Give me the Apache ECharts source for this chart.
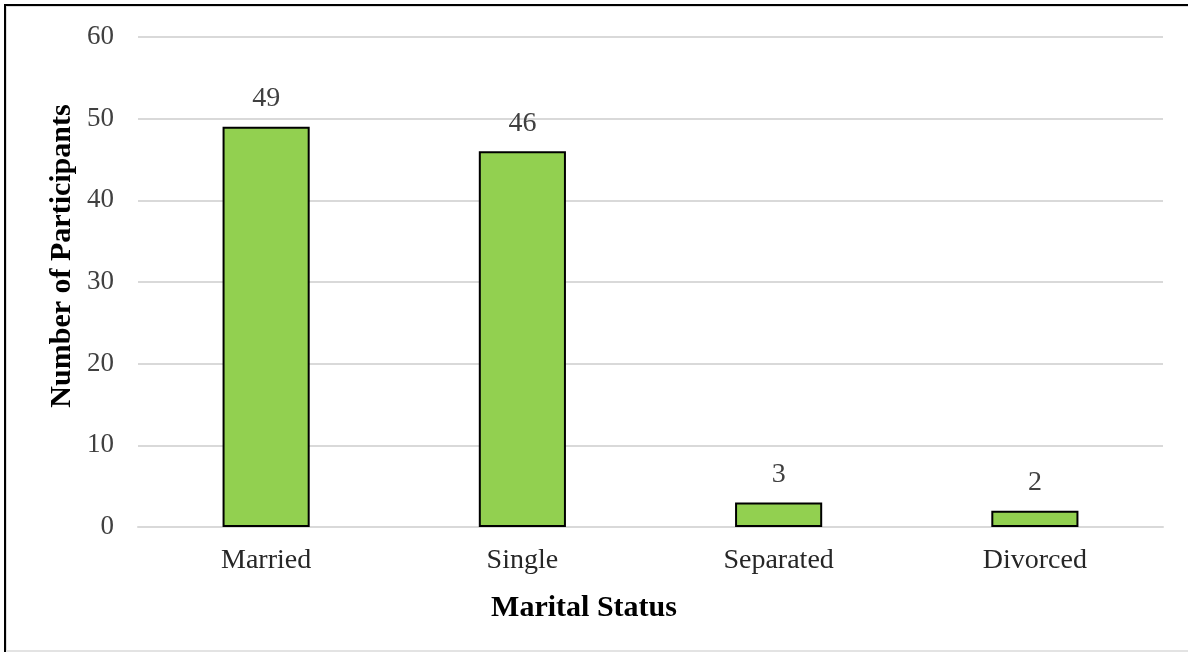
<!DOCTYPE html>
<html>
<head>
<meta charset="utf-8">
<script src="https://cdn.jsdelivr.net/npm/echarts@6/dist/echarts.min.js"></script>
<style>
  html, body { margin: 0; padding: 0; background: #fff; }
  #chart { width: 1188px; height: 652px; }
</style>
</head>
<body>
<div id="chart"></div>
<script>
// Marital status of participants
const categories = ['Married', 'Single', 'Separated', 'Divorced'];
const participants = [49, 46, 3, 2];
const yTicks = [0, 10, 20, 30, 40, 50, 60];

const serif = '"Liberation Serif", "Times New Roman", serif';
const chart = echarts.init(document.getElementById('chart'), null, { renderer: 'canvas' });

chart.setOption({
  backgroundColor: '#ffffff',
  animation: false,
  grid: { left: 138, right: 25, top: 37, bottom: 125, containLabel: false },
  xAxis: {
    type: 'category',
    data: categories,
    axisLine: { show: true, lineStyle: { color: '#d9d9d9', width: 2 } },
    axisTick: { show: false },
    axisLabel: { color: '#262626', fontFamily: serif, fontSize: 28, margin: 20 }
  },
  yAxis: {
    type: 'value',
    min: yTicks[0],
    max: yTicks[yTicks.length - 1],
    interval: 10,
    axisLine: { show: false },
    axisTick: { show: false },
    splitLine: { lineStyle: { color: '#d9d9d9', width: 2 } },
    axisLabel: { color: '#404040', fontFamily: serif, fontSize: 27, margin: 24 }
  },
  series: [{
    type: 'bar',
    data: participants,
    barWidth: '34%',
    itemStyle: { color: '#92d050', borderColor: '#000000', borderWidth: 2 },
    label: {
      show: true,
      position: 'top',
      distance: 14,
      color: '#404040',
      fontFamily: serif,
      fontSize: 28
    }
  }],
  graphic: [
    // frame lines
    { type: 'rect', shape: { x: 4, y: 4, width: 1184, height: 2 }, style: { fill: '#000' } },
    { type: 'rect', shape: { x: 4, y: 4, width: 2, height: 648 }, style: { fill: '#000' } },
    { type: 'rect', shape: { x: 6, y: 6, width: 1182, height: 1 }, style: { fill: '#dddddd' } },
    { type: 'rect', shape: { x: 6, y: 6, width: 1, height: 646 }, style: { fill: '#dddddd' } },
    { type: 'rect', shape: { x: 6, y: 650, width: 1182, height: 2 }, style: { fill: '#e3e3e3' } },
    // axis titles
    {
      type: 'text', x: 584, y: 608,
      style: {
        text: 'Marital Status', fill: '#000', fontFamily: serif, fontSize: 30, fontWeight: 'bold',
        textAlign: 'center', textVerticalAlign: 'middle'
      }
    },
    {
      type: 'text', x: 62, y: 256, rotation: Math.PI / 2,
      style: {
        text: 'Number of Participants', fill: '#000', fontFamily: serif, fontSize: 30, fontWeight: 'bold',
        textAlign: 'center', textVerticalAlign: 'middle'
      }
    }
  ]
});
</script>
</body>
</html>
